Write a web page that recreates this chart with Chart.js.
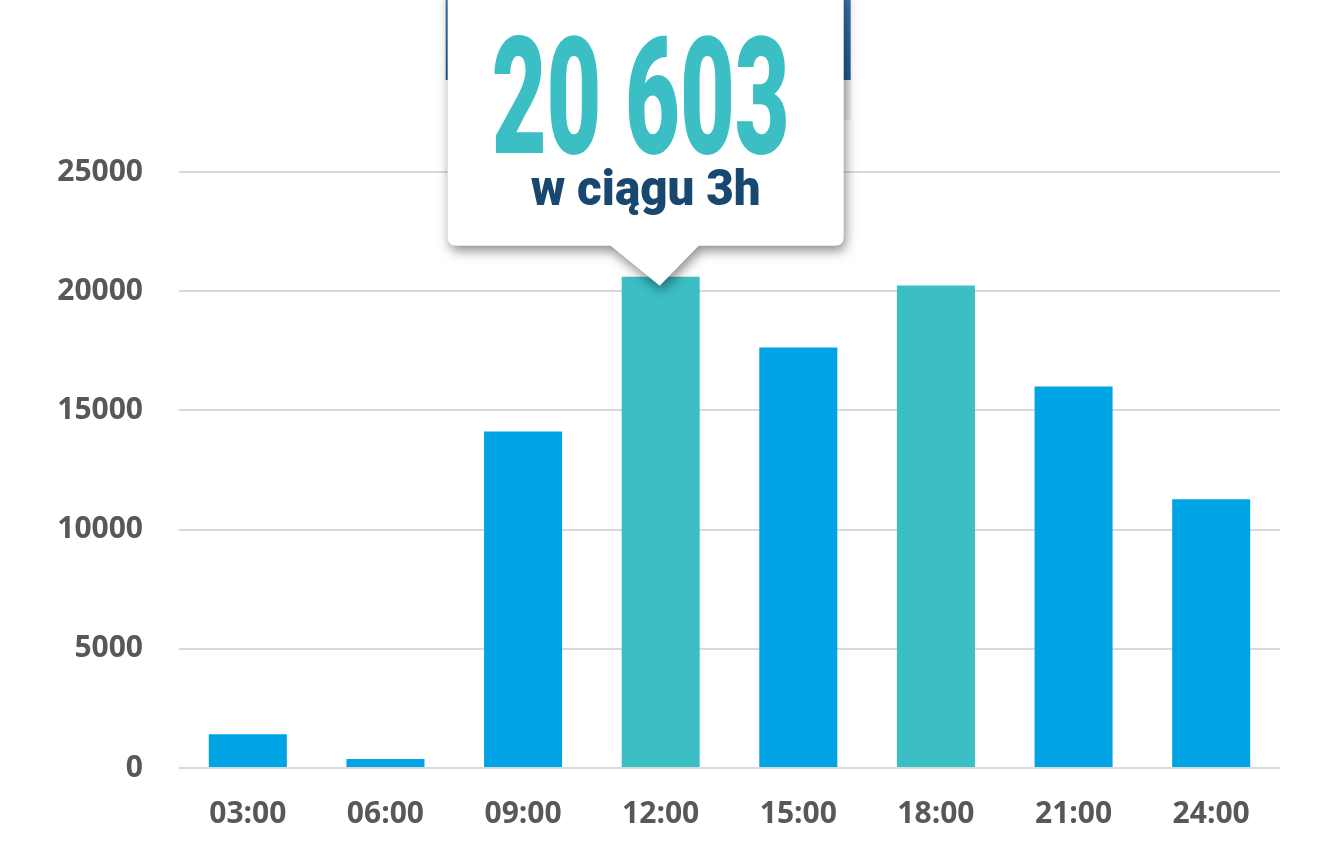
<!DOCTYPE html>
<html>
<head>
<meta charset="utf-8">
<script src="https://cdn.jsdelivr.net/npm/chart.js@4"></script>
<style>
html,body{margin:0;padding:0;background:#fff;}
#wrap{width:1328px;height:860px;position:relative;}
</style>
</head>
<body>
<div id="wrap"><canvas id="c" width="1328" height="860"></canvas></div>
<script>
const categories = ["03:00","06:00","09:00","12:00","15:00","18:00","21:00","24:00"];
const values = [1420, 380, 14120, 20603, 17640, 20240, 16000, 11270];
const barColors = ["#00A4E4","#00A4E4","#00A4E4","#3BBFC4","#00A4E4","#3BBFC4","#00A4E4","#00A4E4"];
const yTicks = [0, 5000, 10000, 15000, 20000, 25000];
const calloutNumber = "20 603";
const calloutText = "w ciągu 3h";
const calloutIndex = 3;

const callout = {
  id: 'callout',
  afterDatasetsDraw(chart) {
    const ctx = chart.ctx;
    const el = chart.getDatasetMeta(0).data[calloutIndex];
    const cx = el.x, top = el.y;
    ctx.save();
    const g = ctx.createLinearGradient(0, 0, 0, 80);
    g.addColorStop(0, '#3a78b4');
    g.addColorStop(1, '#1f5b94');
    ctx.fillStyle = g;
    ctx.fillRect(cx - 215, 0, 405, 80);
    ctx.fillStyle = '#ececec';
    ctx.fillRect(cx + 183, 80, 7, 40);
    const L = cx - 213, R = cx + 183, T = -12, B = top - 31, r = 9;
    ctx.shadowColor = 'rgba(0,0,0,0.45)';
    ctx.shadowBlur = 12;
    ctx.shadowOffsetX = 2;
    ctx.shadowOffsetY = 5;
    ctx.fillStyle = '#ffffff';
    ctx.beginPath();
    ctx.moveTo(L + r, T);
    ctx.lineTo(R - r, T);
    ctx.quadraticCurveTo(R, T, R, T + r);
    ctx.lineTo(R, B - r);
    ctx.quadraticCurveTo(R, B, R - r, B);
    ctx.lineTo(cx + 38, B);
    ctx.lineTo(cx - 1, top + 9);
    ctx.lineTo(cx - 50, B);
    ctx.lineTo(L + r, B);
    ctx.quadraticCurveTo(L, B, L, B - r);
    ctx.lineTo(L, T + r);
    ctx.quadraticCurveTo(L, T, L + r, T);
    ctx.closePath();
    ctx.fill();
    ctx.shadowColor = 'transparent';
    ctx.textAlign = 'center';
    ctx.textBaseline = 'alphabetic';
    ctx.fillStyle = '#3BBFC4';
    ctx.font = '900 163px Roboto';
    let w = ctx.measureText(calloutNumber).width;
    let sx = 298 / w;
    ctx.save();
    ctx.translate(cx - 20, 153);
    ctx.scale(sx, 1);
    ctx.fillText(calloutNumber, 0, 0);
    ctx.restore();
    ctx.fillStyle = '#18476F';
    ctx.font = '900 50px Roboto';
    w = ctx.measureText(calloutText).width;
    sx = 230 / w;
    ctx.save();
    ctx.translate(cx - 15, 205);
    ctx.scale(sx, 1);
    ctx.fillText(calloutText, 0, 0);
    ctx.restore();
    ctx.restore();
  }
};

new Chart(document.getElementById('c'), {
  type: 'bar',
  data: {
    labels: categories,
    datasets: [{
      data: values,
      backgroundColor: barColors,
      barPercentage: 0.567,
      categoryPercentage: 1.0,
      borderWidth: 0
    }]
  },
  options: {
    responsive: false,
    animation: false,
    devicePixelRatio: 1,
    layout: { padding: { top: 172, right: 48, left: 0, bottom: 0 } },
    plugins: { legend: { display: false }, tooltip: { enabled: false } },
    scales: {
      x: {
        grid: { display: false },
        border: { display: false },
        ticks: { color: '#585858', font: { family: 'Open Sans', weight: 'bold', size: 30 }, padding: 20 },
        afterFit(s) { s.height = 92; }
      },
      y: {
        min: 0, max: 25000,
        afterBuildTicks(s) { s.ticks = yTicks.map(v => ({ value: v })); },
        grid: { color: '#d9d9d9', lineWidth: 2, drawTicks: false },
        border: { display: false },
        ticks: { color: '#585858', font: { family: 'Open Sans', weight: 'bold', size: 30 }, padding: 36,
                 callback: v => String(v) },
        afterFit(s) { s.width = 179; }
      }
    }
  },
  plugins: [callout]
});
</script>
</body>
</html>
